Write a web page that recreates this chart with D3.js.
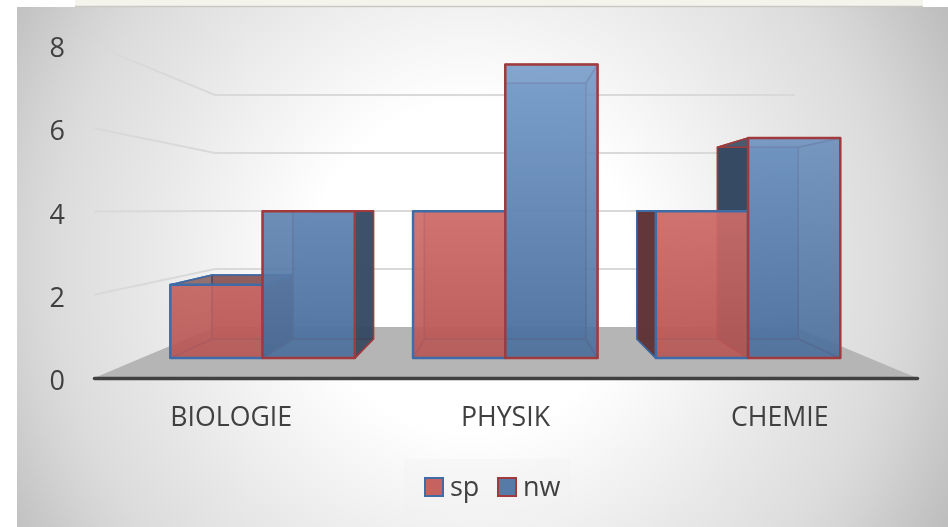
<!DOCTYPE html>
<html>
<head>
<meta charset="utf-8">
<script src="https://cdn.jsdelivr.net/npm/d3@7"></script>
<style>
  html, body { margin: 0; padding: 0; background: #fff; overflow: hidden; }
  text { font-family: "Open Sans", sans-serif; fill: #404040; }
  svg { filter: blur(0.45px); }
</style>
</head>
<body>
<div id="chart"></div>
<script>
const categories = ["BIOLOGIE", "PHYSIK", "CHEMIE"];
const seriesNames = ["sp", "nw"];
const spValues = [2, 4, 4];
const nwValues = [4, 8, 6];
const yTicks = [0, 2, 4, 6, 8];

const width = 948, height = 527;
const svg = d3.select("#chart").append("svg")
  .attr("width", width).attr("height", height)
  .style("display", "block");

// depth planes of the fake 3d box: 0 = front edge, 1 = back wall
const DEPTH_FRONT = 0.39, DEPTH_BACK = 0.765;
const planeLeft = d3.scaleLinear().domain([0, 1]).range([94, 215]);
const planeRight = d3.scaleLinear().domain([0, 1]).range([917, 795]);
const planeBase = d3.scaleLinear().domain([0, 1]).range([378, 327]);
const planeTop = d3.scaleLinear().domain([0, 1]).range([45, 95]);

const band = d3.scaleBand().domain(categories).range([0, 1]).paddingInner(0.24).paddingOuter(0.12);
const sub = d3.scaleBand().domain(seriesNames).range([0, band.bandwidth()]);

const px = (u, t) => d3.scaleLinear().domain([0, 1]).range([planeLeft(t), planeRight(t)])(u);
const py = (v, t) => d3.scaleLinear().domain([0, 8]).range([planeBase(t), planeTop(t)])(v);

// ---- background
const defs = svg.append("defs");
const bg = defs.append("radialGradient").attr("id", "bg")
  .attr("gradientUnits", "userSpaceOnUse")
  .attr("cx", 472).attr("cy", 268).attr("r", 540);
[[0, "#fff"], [0.3, "#fff"], [0.47, "#f2f2f2"], [0.6, "#e8e8e8"], [0.77, "#dcdcdc"], [0.84, "#d4d4d4"], [1, "#bdbdbd"]]
  .forEach(s => bg.append("stop").attr("offset", s[0]).attr("stop-color", s[1]));

const faceGrad = (id, y1, y2, c1, c2) => {
  const g = defs.append("linearGradient").attr("id", id)
    .attr("gradientUnits", "userSpaceOnUse")
    .attr("x1", 0).attr("x2", 0).attr("y1", y1).attr("y2", y2);
  g.append("stop").attr("offset", 0).attr("stop-color", c1);
  g.append("stop").attr("offset", 1).attr("stop-color", c2);
};
faceGrad("spFace", 211, 358, "#cf6d69", "#b85755");
faceGrad("nwFace", 64, 358, "#779dca", "#4a6f9c");

svg.append("rect").attr("x", 75).attr("y", 0).attr("width", 848).attr("height", 7).attr("fill", "#f4f3ec");
svg.append("rect").attr("x", 17).attr("y", 7).attr("width", 931).attr("height", 520).attr("fill", "url(#bg)");
svg.append("line").attr("x1", 75).attr("x2", 923).attr("y1", 6.5).attr("y2", 6.5).attr("stroke", "#c9c9c3").attr("stroke-width", 1.5);

// ---- floor and walls
const line = d3.line();
svg.append("path")
  .attr("d", line([[px(0, 0), py(0, 0)], [px(0, 1), py(0, 1)], [px(1, 1), py(0, 1)], [px(1, 0), py(0, 0)]]) + "Z")
  .attr("fill", "#b5b5b5");

const grid = svg.append("g").attr("fill", "none").attr("stroke", "#d9d9d9").attr("stroke-width", 2);
yTicks.filter(v => v > 0).forEach(v => {
  grid.append("path").attr("d", line([[px(0, 0), py(v, 0)], [px(0, 1), py(v, 1)], [px(1, 1), py(v, 1)]]));
});

// ---- bars
const bars = [];
categories.forEach((c, i) => {
  bars.push({ cat: c, s: "sp", v: spValues[i], fill: "url(#spFace)", stroke: "#3f6ca6", dark: "#5f3436", inner: "#8f3f3f" });
  bars.push({ cat: c, s: "nw", v: nwValues[i], fill: "url(#nwFace)", stroke: "#a03a3c", dark: "#33465f", inner: "#2f4a75" });
});

const corners = d => {
  const u0 = band(d.cat) + sub(d.s), u1 = u0 + sub.bandwidth();
  const p = (u, v, t) => [px(u, t), py(v, t)];
  return {
    fl0: p(u0, 0, DEPTH_FRONT), fr0: p(u1, 0, DEPTH_FRONT), fl1: p(u0, d.v, DEPTH_FRONT), fr1: p(u1, d.v, DEPTH_FRONT),
    bl0: p(u0, 0, DEPTH_BACK), br0: p(u1, 0, DEPTH_BACK), bl1: p(u0, d.v, DEPTH_BACK), br1: p(u1, d.v, DEPTH_BACK)
  };
};

const face = (g, pts, fill, opacity, stroke, sw) => g.append("path")
  .attr("d", line(pts) + "Z")
  .attr("fill", fill).attr("fill-opacity", opacity)
  .attr("stroke", stroke).attr("stroke-width", sw).attr("stroke-linejoin", "round");

const backLayer = svg.append("g");
const frontLayer = svg.append("g");

bars.forEach(d => {
  const k = corners(d);
  face(backLayer, [k.bl0, k.br0, k.br1, k.bl1], d.fill, 0.6, d.stroke, 1.5);
  face(backLayer, [k.fl0, k.fr0, k.br0, k.bl0], "#000", 0.1, d.stroke, 1.5);
  const leftOuter = k.bl0[0] < k.fl0[0], rightOuter = k.br0[0] > k.fr0[0];
  face(backLayer, [k.fl0, k.bl0, k.bl1, k.fl1], leftOuter ? d.dark : d.inner, leftOuter ? 0.97 : 0.2, d.stroke, 1.5);
  face(backLayer, [k.fr0, k.br0, k.br1, k.fr1], rightOuter ? d.dark : d.inner, rightOuter ? 0.9 : 0.15, d.stroke, 1.5);
  const topOuter = k.bl1[1] < k.fl1[1];
  face(backLayer, [k.fl1, k.fr1, k.br1, k.bl1], topOuter ? d.dark : "#fff", topOuter ? 0.6 : 0.08, d.stroke, 1.5);
});
bars.forEach(d => {
  const k = corners(d);
  face(frontLayer, [k.fl0, k.fr0, k.fr1, k.fl1], d.fill, 0.9, d.stroke, 2.5);
});

// ---- axes
const yAxisScale = d3.scaleLinear().domain([0, 8]).range([planeBase(0), planeTop(0)]);
const yAxis = svg.append("g").attr("transform", `translate(${planeLeft(0)},3)`)
  .call(d3.axisLeft(yAxisScale).tickValues(yTicks).tickSize(0).tickPadding(29));
yAxis.select(".domain").remove();
yAxis.selectAll("text").style("font-size", "27px").style("fill", "#404040");

const xAxisScale = d3.scaleBand().domain(categories).range([planeLeft(0), planeRight(0)]);
const xAxis = svg.append("g").attr("transform", `translate(0,${planeBase(0)})`)
  .call(d3.axisBottom(xAxisScale).tickSize(0).tickPadding(29));
xAxis.select(".domain").attr("stroke", "#404040").attr("stroke-width", 3.5).attr("stroke-linecap", "round");
xAxis.selectAll("text").style("font-size", "26.7px").style("fill", "#404040");

// ---- legend
const legend = svg.append("g");
legend.append("rect").attr("x", 404).attr("y", 459).attr("width", 167).attr("height", 55)
  .attr("fill", "#f2f2f2").attr("fill-opacity", 0.35);
const legendX = d3.scaleOrdinal().domain(seriesNames).range([425, 498]);
const legendFill = d3.scaleOrdinal().domain(seriesNames).range(["#c6625f", "#567ba8"]);
const legendStroke = d3.scaleOrdinal().domain(seriesNames).range(["#3f6ca6", "#a03a3c"]);
seriesNames.forEach(s => {
  legend.append("rect").attr("x", legendX(s)).attr("y", 478).attr("width", 18).attr("height", 18)
    .attr("fill", legendFill(s)).attr("stroke", legendStroke(s)).attr("stroke-width", 2);
  legend.append("text").attr("x", legendX(s) + 25).attr("y", 496).style("font-size", "27px").text(s);
});
</script>
</body>
</html>
